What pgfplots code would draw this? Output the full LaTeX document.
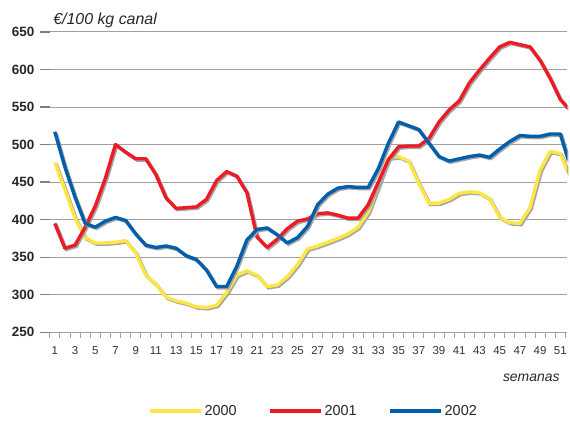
\documentclass[border=0pt]{standalone}
\usepackage{pgfplots}
\usepackage{pgfplotstable}
\pgfplotsset{compat=1.18}
\usepackage{fontspec}
\setmainfont{Liberation Sans}

\definecolor{c2000}{RGB}{255,230,70}
\definecolor{c2001}{RGB}{237,28,36}
\definecolor{c2002}{RGB}{0,94,170}
\definecolor{shadowgray}{RGB}{165,165,165}
\definecolor{gridgray}{RGB}{160,160,160}

% weekly prices, euro per 100 kg carcass
\pgfplotstableread{
week y2000 y2001 y2002
1 476 395 517
2 440 362 470
3 402 366 430
4 376 390 395
5 369 418 390
6 369 455 398
7 370 500 403
8 372 490 399
9 356 481 381
10 326 481 366
11 314 460 363
12 297 429 365
13 292 415 362
14 289 416 352
15 284 417 347
16 283 427 333
17 286 452 311
18 303 464 311
19 326 458 338
20 332 436 373
21 326 377 387
22 311 363 389
23 313 374 380
24 324 388 369
25 340 398 376
26 361 401 391
27 365 408 420
28 370 409 434
29 375 406 442
30 381 402 444
31 390 402 443
32 410 420 443
33 445 450 468
34 482 480 502
35 484 497 530
36 478 498 525
37 448 498 520
38 422 508 502
39 422 530 484
40 427 546 478
41 435 558 481
42 437 582 484
43 436 599 486
44 428 615 483
45 403 630 494
46 396 636 504
47 395 633 512
48 416 630 511
49 466 612 511
50 491 588 514
51 488 560 514
52 455 545 470
}\prices

\begin{document}
\begin{tikzpicture}
\begin{axis}[
    scale only axis,
    width=520pt, height=302pt,
    xmin=0.5, xmax=51.68,
    ymin=250, ymax=650,
    clip mode=individual,
    axis x line*=bottom,
    axis y line*=left,
    x axis line style={draw=gridgray, line width=0.9pt},
    y axis line style={draw=none},
    ytick={250,300,...,650},
    xtick={1,3,...,51},
    minor xtick={0.5,1.5,...,51.5},
    tick align=outside,
    major tick length=10pt,
    minor tick length=6pt,
    xtick style={draw=none},
    minor x tick style={draw=gridgray, line width=0.8pt},
    ytick style={draw=gray, line width=1.4pt},
    ymajorgrids,
    grid style={draw=gridgray, line width=0.9pt},
    yticklabel style={font=\fontsize{13.5}{15}\selectfont\bfseries, text=black!85, xshift=-2pt},
    xticklabel style={font=\fontsize{11.5}{13}\selectfont, text=black!80, yshift=-1pt},
    /pgf/number format/assume math mode=true,
    legend columns=3,
    legend style={at={(0.51,-0.262)}, anchor=center, draw=none,
        font=\fontsize{14.5}{16}\selectfont, text=black!85,
        /tikz/every even column/.append style={column sep=30pt}},
    legend image code/.code={\draw[#1] (0pt,0pt) -- (51pt,0pt);},
]
\addplot[shadowgray, line width=3.4pt, xshift=1.3pt, yshift=-1.3pt, forget plot] table[x=week, y=y2000] {\prices};
\addplot[c2000, line width=3.4pt, line join=round] table[x=week, y=y2000] {\prices};
\addplot[shadowgray, line width=3.4pt, xshift=1.3pt, yshift=-1.3pt, forget plot] table[x=week, y=y2001] {\prices};
\addplot[c2001, line width=3.4pt, line join=round] table[x=week, y=y2001] {\prices};
\addplot[shadowgray, line width=3.4pt, xshift=1.3pt, yshift=-1.3pt, forget plot] table[x=week, y=y2002] {\prices};
\addplot[c2002, line width=3.4pt, line join=round] table[x=week, y=y2002] {\prices};
\legend{2000, 2001, 2002}
\node[anchor=base west, font=\fontsize{16}{18}\selectfont\itshape, text=black!85] at (rel axis cs:0,1) [yshift=7pt] {€/100 kg canal};
\node[anchor=base east, font=\fontsize{14}{16}\selectfont\itshape, text=black!85] at (rel axis cs:0.992,0) [yshift=-49pt] {semanas};
\end{axis}
\path[use as bounding box] (-50pt,-85pt) rectangle (520pt,334pt);
\end{tikzpicture}
\end{document}
